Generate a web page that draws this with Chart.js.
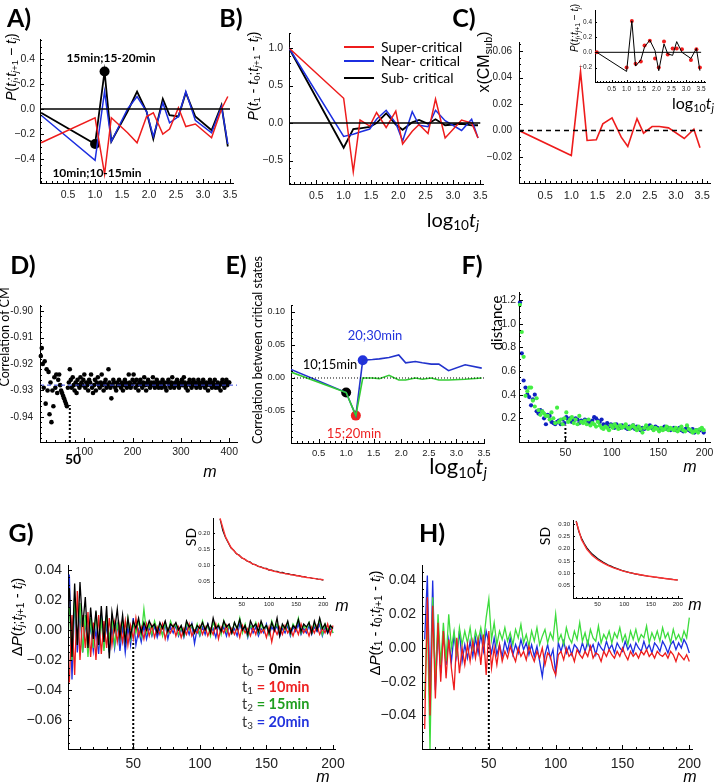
<!DOCTYPE html>
<html>
<head>
<meta charset="utf-8">
<title>Critical states</title>
<script src="https://cdn.jsdelivr.net/npm/chart.js@4.4.1/dist/chart.umd.min.js"></script>
<style>
  body { margin: 0; background: #fff; }
  #fig { position: relative; width: 717px; height: 783px; overflow: hidden; background: #fff; font-family: Lato, "Open Sans", sans-serif; color: #000; }
  #fig canvas { position: absolute; }
  #txt { position: absolute; left: 0; top: 0; width: 717px; height: 783px; z-index: 2; pointer-events: none; }
  .t { position: absolute; white-space: nowrap; line-height: 1; transform: translate(-50%, -50%); }
  .v { transform: translate(-50%, -50%) rotate(-90deg); }
  .lab { font-weight: 700; font-size: 25px; }
  .mm { font-family: "Liberation Sans", Arial, sans-serif; }
  sub { font-size: 68%; vertical-align: -0.25em; line-height: 0; }
  .sw { position: absolute; height: 2px; width: 30px; left: 344px; }
</style>
</head>
<body>
<div id="fig">
<div id="txt">
  <div class="t lab" style="left:19px;top:17px">A)</div>
  <div class="t lab" style="left:231px;top:17px">B)</div>
  <div class="t lab" style="left:464px;top:17px">C)</div>
  <div class="t lab" style="left:23px;top:264px">D)</div>
  <div class="t lab" style="left:236px;top:264px">E)</div>
  <div class="t lab" style="left:472px;top:264px">F)</div>
  <div class="t lab" style="left:21px;top:532px">G)</div>
  <div class="t lab" style="left:432px;top:532px">H)</div>

  <!-- A -->
  <div class="t v mm" style="left:11px;top:67px;font-size:14px"><i>P</i>(<i>t</i><sub><i>j</i></sub>;<i>t</i><sub><i>j</i>+1</sub> &minus; <i>t</i><sub><i>j</i></sub>)</div>
  <div class="t" style="left:111px;top:58px;font-size:12px;font-weight:700">15min;15-20min</div>
  <div class="t" style="left:97px;top:173px;font-size:12px;font-weight:700">10min;10-15min</div>

  <!-- B -->
  <div class="t v mm" style="left:253px;top:76px;font-size:14px"><i>P</i>(<i>t</i><sub>1</sub> - <i>t</i><sub>0</sub>;<i>t</i><sub><i>j</i>+1</sub> - <i>t</i><sub><i>j</i></sub>)</div>
  <div class="sw" style="top:46px;background:#ee1c1c"></div>
  <div class="sw" style="top:60px;background:#1c2ee0"></div>
  <div class="sw" style="top:77px;background:#000"></div>
  <div class="t" style="left:381px;top:47px;font-size:14px;transform:translate(0,-50%)">Super-critical</div>
  <div class="t" style="left:381px;top:61px;font-size:14px;transform:translate(0,-50%)">Near- critical</div>
  <div class="t" style="left:381px;top:78px;font-size:14px;transform:translate(0,-50%)">Sub- critical</div>
  <div class="t" style="left:453px;top:219px;font-size:20px">log<sub>10</sub><i>t</i><sub><i>j</i></sub></div>

  <!-- C -->
  <div class="t v mm" style="left:484px;top:62px;font-size:16px">x(CM<sub>sub</sub>)</div>
  <div class="t v mm" style="left:575px;top:28px;font-size:10px"><i>P</i>(<i>t</i><sub><i>j</i></sub>;<i>t</i><sub><i>j</i>+1</sub> &minus; <i>t</i><sub><i>j</i></sub>)</div>
  <div class="t" style="left:693px;top:103px;font-size:16px">log<sub>10</sub><i>t</i><sub><i>j</i></sub></div>

  <!-- D -->
  <div class="t v" style="left:5px;top:337px;font-size:12.5px">Correlation of CM</div>
  <div class="t" style="left:73px;top:459px;font-size:14px;font-weight:700">50</div>
  <div class="t mm" style="left:210px;top:472px;font-size:16px;font-style:italic">m</div>

  <!-- E -->
  <div class="t v" style="left:258px;top:350px;font-size:12.5px">Correlation between critical states</div>
  <div class="t" style="left:375px;top:335px;font-size:13px;color:#2233dd">20;30min</div>
  <div class="t" style="left:330px;top:364px;font-size:13px">10;15min</div>
  <div class="t" style="left:354px;top:433px;font-size:13px;color:#ee2222">15;20min</div>
  <div class="t" style="left:458px;top:466px;font-size:22px">log<sub>10</sub><i>t</i><sub><i>j</i></sub></div>

  <!-- F -->
  <div class="t v" style="left:496px;top:323px;font-size:15px">distance</div>
  <div class="t mm" style="left:690px;top:467px;font-size:16px;font-style:italic">m</div>

  <!-- G -->
  <div class="t v mm" style="left:16px;top:617px;font-size:15px">&Delta;<i>P</i>(<i>t</i><sub><i>j</i></sub>;<i>t</i><sub><i>j</i>+1</sub> - <i>t</i><sub><i>j</i></sub>)</div>
  <div class="t mm" style="left:323px;top:777px;font-size:16px;font-style:italic">m</div>
  <div style="position:absolute;left:242px;top:660px;font-size:14.5px;line-height:17.5px;white-space:nowrap">
    <div><span style="color:#333">t<sub>0</sub> = </span><b>0min</b></div>
    <div><span style="color:#333">t<sub>1</sub> </span><b style="color:#ee2222">= 10min</b></div>
    <div><span style="color:#333">t<sub>2</sub> </span><b style="color:#1e9e1e">= 15min</b></div>
    <div><span style="color:#333">t<sub>3</sub> </span><b style="color:#2233dd">= 20min</b></div>
  </div>
  <div class="t v" style="left:191px;top:537px;font-size:14px">SD</div>
  <div class="t mm" style="left:342px;top:606px;font-size:16px;font-style:italic">m</div>

  <!-- H -->
  <div class="t v mm" style="left:374px;top:623px;font-size:15px">&Delta;<i>P</i>(<i>t</i><sub>1</sub> - <i>t</i><sub>0</sub>;<i>t</i><sub><i>j</i>+1</sub> - <i>t</i><sub><i>j</i></sub>)</div>
  <div class="t mm" style="left:690px;top:777px;font-size:16px;font-style:italic">m</div>
  <div class="t v" style="left:545px;top:536px;font-size:14px">SD</div>
  <div class="t mm" style="left:695px;top:605px;font-size:16px;font-style:italic">m</div>
</div>
</div>

<script>
// ---------- data ----------
// A: P(tj; tj+1 - tj) against log10 tj
const logT_A = [0, 1.0, 1.176, 1.301, 1.602, 1.778, 1.954, 2.079, 2.255, 2.380, 2.544, 2.681, 2.857, 3.158, 3.342, 3.459];
const superA = [-0.27, -0.07, -0.52, -0.07, -0.19, -0.27, -0.06, -0.03, -0.20, -0.16, 0.01, -0.14, -0.12, -0.23, 0.00, 0.10];
const nearA = [-0.05, -0.41, 0.14, -0.26, 0.00, 0.10, -0.02, -0.22, 0.05, -0.11, -0.06, 0.14, -0.09, -0.19, 0.02, -0.28];
const subA = [-0.03, -0.28, 0.30, -0.26, -0.02, 0.14, -0.02, -0.24, 0.08, -0.05, -0.06, 0.13, -0.06, -0.17, 0.03, -0.30];
const markA_x = [1.0, 1.176];
const markA_y = [-0.28, 0.30];

// B: P(t1 - t0; tj+1 - tj)
const logT_B = [0, 1.0, 1.176, 1.301, 1.477, 1.602, 1.778, 1.954, 2.079, 2.255, 2.380, 2.544, 2.681, 2.857, 3.158, 3.342, 3.459];
const superB = [1.0, 0.33, -0.65, 0.04, -0.04, 0.14, -0.06, 0.16, -0.28, -0.11, -0.02, -0.14, 0.32, -0.20, 0.04, 0.00, -0.20];
const nearB = [1.0, -0.18, -0.15, -0.12, -0.08, 0.05, 0.17, 0.00, -0.24, 0.15, -0.03, -0.05, 0.17, 0.03, -0.10, 0.05, -0.20];
const subB = [1.0, -0.33, -0.08, -0.07, -0.05, 0.00, 0.13, -0.02, -0.09, 0.01, 0.04, -0.01, 0.05, -0.03, -0.01, -0.03, -0.03];

// C: x(CM_sub) and inset
const logT_C = logT_B;
const xCMsub = [0, -0.0188, 0.0445, -0.0075, -0.007, 0.005, 0.0095, -0.005, -0.012, 0.009, -0.002, 0.003, 0.003, 0.002, -0.006, 0.001, -0.013];
const insetC_line = [0, -0.25, 0.41, -0.18, -0.10, 0.07, 0.16, 0.02, -0.24, 0.11, -0.02, -0.04, 0.14, 0.00, -0.08, 0.05, -0.24];
const insetC_dots = [0, -0.20, 0.41, -0.15, -0.12, 0.09, 0.15, -0.08, -0.20, 0.14, -0.03, 0.05, 0.05, 0.04, -0.10, 0.04, -0.20];

// D: correlation of CM against m (m = 10, 12, ..., 400)
const mD_start = 10, mD_step = 2;
const corrCM = [
  -0.917,-0.914,-0.920,-0.929,-0.919,-0.935,-0.922,-0.930,-0.923,-0.939,-0.927,-0.942,-0.930,-0.936,-0.925,-0.929,-0.924,-0.931,-0.926,-0.924,-0.928,-0.930,-0.931,-0.932,-0.933,-0.934,-0.935,-0.936,-0.929,-0.927,
  -0.922,-0.926,-0.929,-0.925,-0.928,-0.930,-0.927,-0.931,-0.926,-0.928,-0.929,-0.925,-0.927,-0.928,-0.926,-0.924,-0.929,-0.927,-0.928,-0.930,-0.926,-0.927,-0.924,-0.929,-0.931,-0.928,-0.926,-0.930,-0.927,-0.925,-0.928,
  -0.929,-0.927,-0.924,-0.928,-0.930,-0.927,-0.926,-0.929,-0.928,-0.922,-0.927,-0.929,-0.933,-0.928,-0.926,-0.927,-0.929,-0.930,-0.927,-0.928,-0.926,-0.928,-0.929,-0.927,-0.930,-0.928,-0.926,-0.927,-0.929,-0.928,-0.924,-0.927,-0.929,-0.928,-0.926,
  -0.924,-0.927,-0.929,-0.926,-0.928,-0.930,-0.927,-0.926,-0.928,-0.929,-0.927,-0.925,-0.928,-0.930,-0.927,-0.926,-0.928,-0.929,-0.927,-0.928,-0.925,-0.927,-0.929,-0.928,-0.926,-0.927,-0.929,-0.928,-0.927,-0.929,-0.926,-0.928,-0.927,-0.929,-0.930,-0.927,-0.926,-0.928,-0.929,-0.927,-0.925,-0.928,-0.929,-0.927,-0.928,-0.926,-0.927,-0.929,-0.928,-0.927,
  -0.926,-0.928,-0.925,-0.927,-0.929,-0.928,-0.930,-0.927,-0.926,-0.928,-0.929,-0.927,-0.926,-0.928,-0.927,-0.929,-0.928,-0.926,-0.927,-0.929,-0.928,-0.927,-0.926,-0.928,-0.929,-0.927,-0.928,-0.930,-0.927,-0.926,-0.928,-0.929,-0.927,-0.928,-0.926,-0.929,-0.928,-0.927,-0.929,-0.928,-0.930,-0.927,-0.926,-0.928,-0.929,-0.927,-0.926,-0.928,-0.927,-0.927
];
const meanCM = -0.928;
const cutD = { m: 70, top: -0.9355 };

// E: correlation between critical states
const logT_E = [0, 1.0, 1.176, 1.301, 1.477, 1.602, 1.778, 1.954, 2.079, 2.255, 2.380, 2.544, 2.681, 2.857, 3.158, 3.459];
const corrBlue = [0.013, -0.022, -0.057, 0.027, 0.028, 0.029, 0.031, 0.035, 0.023, 0.025, 0.023, 0.021, 0.021, 0.011, 0.020, 0.015];
const corrGreen = [0.009, -0.022, -0.057, 0.000, 0.000, -0.001, 0.004, -0.003, -0.003, 0.000, -0.002, 0.000, -0.003, -0.003, -0.002, 0.000];
const markE_x = [1.0, 1.176, 1.301];
const markE_y = [-0.022, -0.057, 0.027];

// F: distance against m (m = 1, 3, ..., 199)
const mF_start = 1, mF_step = 2;
const distBlue = [
  1.18,0.75,0.52,0.46,0.40,0.38,0.31,0.36,0.40,0.26,
  0.24,0.27,0.26,0.20,0.15,0.23,0.22,0.17,0.16,0.15,
  0.17,0.18,0.15,0.19,0.16,0.21,0.19,0.20,0.17,0.18,
  0.20,0.19,0.16,0.18,0.17,0.19,0.18,0.16,0.17,0.18,
  0.21,0.20,0.18,0.17,0.19,0.15,0.14,0.16,0.13,0.15,
  0.14,0.12,0.15,0.13,0.12,0.14,0.13,0.12,0.11,0.13,
  0.12,0.14,0.11,0.13,0.12,0.10,0.12,0.11,0.13,0.12,
  0.14,0.12,0.11,0.13,0.12,0.10,0.11,0.12,0.13,0.11,
  0.12,0.10,0.11,0.12,0.10,0.11,0.12,0.10,0.09,0.11,
  0.12,0.10,0.09,0.11,0.08,0.10,0.09,0.10,0.11,0.08
];
const distGreen = [
  1.16,0.93,0.72,0.39,0.43,0.46,0.46,0.35,0.30,0.37,
  0.27,0.23,0.26,0.24,0.22,0.22,0.19,0.25,0.20,0.16,
  0.29,0.17,0.19,0.15,0.20,0.25,0.17,0.19,0.21,0.16,
  0.19,0.15,0.22,0.17,0.16,0.18,0.15,0.19,0.14,0.16,
  0.15,0.13,0.17,0.14,0.12,0.11,0.13,0.12,0.10,0.14,
  0.12,0.15,0.13,0.11,0.14,0.12,0.13,0.15,0.12,0.11,
  0.13,0.14,0.12,0.10,0.13,0.11,0.08,0.12,0.14,0.11,
  0.12,0.13,0.10,0.12,0.11,0.09,0.12,0.10,0.11,0.13,
  0.10,0.12,0.11,0.10,0.12,0.09,0.11,0.13,0.10,0.09,
  0.14,0.11,0.10,0.08,0.09,0.10,0.08,0.11,0.12,0.10
];
const cutF = { m: 50, top: 0.14 };

// G: dP(tj; tj+1 - tj) against m (m = 2, 4, ..., 200)
const mGH_start = 2, mGH_step = 2;
const dG_t0 = [
  0.028,-0.018,0.031,-0.010,0.032,0.002,0.022,-0.012,0.015,-0.006,
  0.013,-0.010,0.016,-0.008,0.016,-0.019,0.012,0.000,0.014,-0.005,
  0.010,-0.008,0.008,-0.004,0.006,0.001,0.008,-0.002,0.005,0.000,
  0.006,0.002,0.004,-0.002,0.005,0.001,0.006,-0.001,0.004,0.002,
  0.005,0.000,0.003,-0.003,0.006,0.002,0.004,-0.002,0.003,0.001,
  0.005,0.000,0.004,-0.002,0.008,0.001,0.003,-0.001,0.006,0.002,
  0.004,-0.002,0.005,0.001,0.007,0.000,0.003,-0.003,0.006,0.002,
  0.004,-0.001,0.006,0.001,0.003,-0.002,0.005,0.000,0.008,-0.004,
  0.004,0.001,0.006,-0.002,0.003,0.001,0.007,-0.001,0.004,0.002,
  0.005,-0.002,0.006,0.000,0.008,0.001,0.004,-0.002,0.003,0.001
];
const dG_t1 = [
  -0.035,0.010,-0.030,0.026,-0.020,0.010,-0.012,0.012,-0.018,0.005,
  -0.020,0.010,-0.016,0.006,-0.012,0.008,-0.010,0.005,-0.008,0.004,
  -0.008,0.006,-0.010,0.003,-0.006,0.008,-0.004,0.002,-0.006,0.004,
  -0.004,0.003,-0.005,0.002,-0.003,0.004,-0.006,0.001,-0.002,0.003,
  -0.004,0.002,-0.005,0.001,-0.003,0.004,-0.004,0.000,-0.002,0.003,
  -0.003,0.002,-0.004,0.001,-0.003,0.004,-0.006,0.002,-0.002,0.003,
  -0.004,0.001,-0.003,0.002,-0.005,0.003,-0.002,0.001,-0.004,0.002,
  -0.003,0.004,-0.002,0.001,-0.005,0.002,-0.008,0.001,-0.003,0.002,
  -0.003,0.003,-0.002,0.001,-0.004,0.002,-0.003,0.004,-0.002,0.001,
  -0.004,0.002,-0.002,0.003,-0.003,0.001,-0.002,0.004,-0.003,0.003
];
const dG_t2 = [
  0.015,-0.020,0.022,-0.010,0.018,-0.015,0.010,-0.018,0.008,-0.012,
  0.012,-0.008,0.006,-0.014,0.010,-0.006,0.008,-0.010,0.004,-0.006,
  0.006,-0.004,0.008,-0.006,0.004,-0.002,0.006,-0.004,0.014,-0.002,
  0.004,-0.003,0.006,0.000,0.003,-0.004,0.005,-0.002,0.006,0.001,
  0.004,-0.003,0.002,-0.004,0.005,0.000,0.003,-0.002,0.004,-0.003,
  0.006,0.000,0.003,-0.004,0.005,0.001,0.004,-0.003,0.006,-0.001,
  0.003,-0.002,0.005,0.000,0.008,-0.002,0.004,-0.004,0.003,0.001,
  0.005,-0.002,0.004,0.000,0.003,-0.003,0.006,0.001,0.004,-0.002,
  0.003,0.000,0.005,-0.003,0.004,0.001,0.008,-0.002,0.003,0.000,
  0.005,-0.002,0.004,0.001,0.007,-0.003,0.004,0.000,0.003,-0.002
];
const dG_t3 = [
  0.037,-0.033,0.020,-0.015,0.012,-0.015,0.005,-0.010,0.003,-0.014,
  0.000,-0.016,0.010,-0.012,0.004,-0.015,0.002,-0.012,0.005,-0.014,
  0.003,-0.015,0.002,-0.010,0.008,-0.010,0.000,-0.008,0.003,-0.006,
  0.002,-0.004,0.003,-0.005,0.001,-0.003,0.004,-0.006,0.002,-0.002,
  0.003,-0.004,0.001,-0.005,0.002,-0.003,0.004,-0.009,0.001,-0.004,
  0.002,-0.003,0.004,-0.002,0.001,-0.005,0.003,-0.002,0.002,-0.004,
  0.003,-0.002,0.001,-0.004,0.004,-0.001,0.002,-0.005,0.003,-0.002,
  0.002,-0.004,0.001,-0.002,0.004,-0.003,0.002,-0.001,0.003,-0.004,
  0.001,-0.002,0.003,-0.004,0.002,-0.001,0.004,-0.003,0.001,-0.002,
  0.003,-0.003,0.002,-0.001,0.004,-0.004,0.002,-0.002,0.001,-0.002
];
const cutG = { m: 50, top: -0.007 };

// H: dP(t1 - t0; tj+1 - tj) against m
const dH_t1 = [
  -0.048,0.030,-0.040,0.025,-0.030,0.015,-0.020,0.010,-0.018,0.005,
  -0.012,-0.025,0.006,-0.015,0.000,-0.010,0.002,-0.008,0.004,-0.006,
  0.005,-0.010,0.008,-0.016,0.010,-0.012,0.000,-0.010,0.002,-0.008,
  -0.002,-0.006,0.001,-0.004,-0.008,0.000,-0.005,-0.002,-0.007,0.001,
  -0.004,-0.008,-0.002,-0.006,0.000,-0.010,-0.003,-0.005,-0.012,-0.016,
  -0.004,-0.002,-0.007,0.000,-0.005,-0.003,-0.008,-0.001,-0.004,-0.006,
  -0.002,-0.005,0.001,-0.006,-0.003,-0.004,-0.008,-0.002,-0.005,-0.001,
  -0.004,-0.006,-0.002,-0.005,0.000,-0.004,-0.007,-0.002,-0.005,-0.003,
  -0.006,-0.002,-0.004,-0.001,-0.005,-0.003,-0.006,-0.002,-0.004,-0.005,
  -0.003,-0.006,-0.002,-0.004,-0.008,-0.003,-0.005,-0.007,-0.004,-0.008
];
const dH_t2 = [
  -0.030,0.020,-0.060,0.030,-0.020,0.020,-0.010,0.015,-0.008,0.020,
  0.000,0.010,-0.005,0.012,0.002,0.010,0.003,0.012,0.000,0.010,
  0.004,0.012,0.003,0.018,0.029,0.005,0.015,0.002,0.010,0.005,
  0.012,0.004,0.009,0.002,0.011,0.006,0.014,0.003,0.008,0.001,
  0.010,0.004,0.012,0.002,0.007,0.011,0.003,0.009,0.005,0.020,
  0.004,0.008,0.002,0.012,0.006,0.003,0.010,0.005,0.015,0.004,
  0.009,0.002,0.011,0.006,0.004,0.013,0.003,0.008,0.005,0.010,
  0.003,0.009,0.006,0.012,0.004,0.008,0.002,0.010,0.005,0.011,
  0.004,0.008,0.006,0.013,0.003,0.009,0.005,0.010,0.004,0.012,
  0.006,0.009,0.003,0.011,0.005,0.008,0.004,0.010,0.006,0.018
];
const dH_t3 = [
  0.005,0.043,-0.030,0.040,-0.025,0.012,-0.015,0.010,-0.010,0.005,
  -0.008,0.008,-0.005,0.010,-0.008,0.002,-0.006,0.004,-0.005,0.006,
  -0.003,0.008,-0.002,0.010,0.003,-0.003,0.006,-0.004,0.002,-0.005,
  0.004,-0.002,0.006,-0.004,0.002,-0.003,0.005,-0.001,0.003,-0.004,
  0.002,-0.005,0.001,-0.008,-0.017,-0.004,0.002,-0.006,-0.001,-0.015,
  0.003,-0.002,0.004,-0.003,0.001,-0.004,0.002,0.000,-0.003,0.003,
  -0.002,0.004,-0.001,0.002,-0.004,0.003,0.000,-0.002,0.004,-0.001,
  0.002,-0.003,0.003,0.000,-0.002,0.004,-0.001,0.002,-0.003,0.003,
  0.000,-0.002,0.004,-0.001,0.002,-0.003,0.003,0.001,-0.002,0.004,
  0.001,-0.003,0.002,0.004,-0.001,0.003,0.000,0.005,0.002,-0.003
];
const cutH = { m: 50, top: 0.004 };

// SD insets (observed every 5, fitted curve every 10)
const mSD_start = 10, mSD_step = 5, mFit_step = 10;
const sdG = [0.243,0.207,0.186,0.170,0.154,0.147,0.136,0.132,0.123,0.120,0.113,0.111,0.104,0.103,0.097,0.096,0.092,0.091,0.086,0.086,0.082,0.082,0.078,0.079,0.075,0.075,0.072,0.072,0.069,0.069,0.066,0.066,0.063,0.063,0.060,0.060,0.058,0.057,0.055];
const sdG_fit = [0.245,0.188,0.156,0.137,0.124,0.114,0.105,0.098,0.092,0.087,0.082,0.078,0.075,0.072,0.069,0.066,0.063,0.061,0.058,0.056];
const sdH = [0.312,0.268,0.242,0.221,0.203,0.190,0.178,0.169,0.160,0.153,0.146,0.140,0.134,0.129,0.124,0.120,0.116,0.112,0.109,0.106,0.103,0.101,0.098,0.096,0.094,0.092,0.090,0.088,0.087,0.085,0.084,0.082,0.081,0.079,0.078,0.077,0.076,0.074,0.073];
const sdH_fit = [0.310,0.236,0.197,0.172,0.155,0.142,0.131,0.122,0.115,0.108,0.103,0.098,0.094,0.090,0.087,0.084,0.081,0.078,0.075,0.073];

// tick values
const ticksLog = [0.5, 1.0, 1.5, 2.0, 2.5, 3.0, 3.5];
const ticksA_y = [-0.4, -0.2, 0, 0.2, 0.4];
const ticksB_y = [-0.5, 0, 0.5, 1.0];
const ticksC_y = [-0.02, 0, 0.02, 0.04, 0.06];
const ticksCi_y = [-0.2, 0, 0.2, 0.4];
const ticksD_x = [100, 200, 300, 400];
const ticksD_y = [-0.94, -0.93, -0.92, -0.91, -0.90];
const ticksE_y = [-0.05, 0, 0.05, 0.10];
const ticksM200 = [50, 100, 150, 200];
const ticksF_y = [0.2, 0.4, 0.6, 0.8, 1.0, 1.2];
const ticksG_y = [-0.06, -0.04, -0.02, 0, 0.02, 0.04];
const ticksH_y = [-0.04, -0.02, 0, 0.02, 0.04];
const ticksGi_y = [0.05, 0.10, 0.15, 0.20];
const ticksHi_y = [0.05, 0.10, 0.15, 0.20, 0.25, 0.30];

// ---------- helpers ----------
const RED = '#ee1c1c', BLUE = '#1c2ee0', GREEN = '#3ddc3d', BLACK = '#000';
const TICK_FONT = "'Liberation Sans', Arial, sans-serif";
const fig = document.getElementById('fig');
const seq = (start, step, n) => Array.from({ length: n }, (_, i) => start + i * step);
const pts = (xs, ys) => ys.map((y, i) => ({ x: xs[i], y }));
const fmt = (v, d, hy) => v.toFixed(d).replace('-', hy ? '-' : '\u2212');

// Mathematica style ticks drawn inward
const inTicks = {
  id: 'inTicks',
  afterDraw(chart, args, o) {
    const { ctx, chartArea: a, scales } = chart;
    ctx.save();
    ctx.strokeStyle = '#000';
    ctx.lineWidth = 1;
    ctx.beginPath();
    [['x', o.x], ['y', o.y]].forEach(([k, step]) => {
      if (!step) return;
      const s = scales[k];
      const first = Math.ceil(s.min / step - 1e-6);
      for (let i = first; i * step <= s.max + 1e-9; i++) {
        const v = i * step;
        const major = s.ticks.some(t => Math.abs(t.value - v) < step / 4);
        const len = major ? o.len : o.len / 2;
        const p = Math.round(s.getPixelForValue(v)) + 0.5;
        if (k === 'x') { ctx.moveTo(p, a.bottom); ctx.lineTo(p, a.bottom - len); }
        else { ctx.moveTo(a.left, p); ctx.lineTo(a.left + len, p); }
      }
    });
    ctx.stroke();
    ctx.restore();
  }
};

function axis(min, max, ticks, digits, size, gap, hy) {
  return {
    type: 'linear', min, max,
    afterBuildTicks: s => { s.ticks = ticks.map(v => ({ value: v })); },
    grid: { display: false, drawTicks: false },
    border: { display: true, color: '#000', width: 1 },
    ticks: {
      font: { family: TICK_FONT, size }, color: '#222', padding: gap,
      maxRotation: 0, autoSkip: false, callback: v => fmt(v, digits, hy)
    }
  };
}

// box = plot area [left, top, right, bottom] on the page, pad = room around it [l, t, r, b]
function panel(box, pad, xs, ys, datasets, minor) {
  const c = document.createElement('canvas');
  const W = box[2] - box[0] + pad[0] + pad[2];
  const H = box[3] - box[1] + pad[1] + pad[3];
  c.width = W; c.height = H;
  c.style.left = (box[0] - pad[0]) + 'px';
  c.style.top = (box[1] - pad[1]) + 'px';
  c.style.width = W + 'px'; c.style.height = H + 'px';
  fig.appendChild(c);
  xs.afterFit = s => { s.height = pad[3]; s.paddingLeft = 0; s.paddingRight = 0; };
  ys.afterFit = s => { s.width = pad[0]; s.paddingTop = 0; s.paddingBottom = 0; };
  return new Chart(c, {
    type: 'scatter',
    data: { datasets },
    options: {
      responsive: false, animation: false, devicePixelRatio: 1,
      layout: { padding: { top: pad[1], right: pad[2], left: 0, bottom: 0 } },
      plugins: { legend: { display: false }, tooltip: { enabled: false }, inTicks: minor },
      scales: { x: xs, y: ys }
    },
    plugins: [inTicks]
  });
}

const line = (data, color, width, extra) => Object.assign({
  data, showLine: true, borderColor: color, borderWidth: width, pointRadius: 0, tension: 0, fill: false
}, extra || {});
const dots = (data, color, r, extra) => Object.assign({
  data, showLine: false, backgroundColor: color, borderWidth: 0, pointRadius: r, clip: false
}, extra || {});
const hline = (x0, x1, y) => [{ x: x0, y }, { x: x1, y }];
const vline = (x, y0, y1) => [{ x, y: y0 }, { x, y: y1 }];

// ---------- A ----------
panel([40, 39, 233, 183], [38, 6, 14, 22],
  axis(-0.02, 3.555, ticksLog, 1, 10.5, 6), axis(-0.592, 0.56, ticksA_y, 1, 10.5, 5), [
    line(hline(0, 3.5, 0), BLACK, 1.5),
    line(pts(logT_A, superA), RED, 1.5),
    line(pts(logT_A, nearA), BLUE, 1.5),
    line(pts(logT_A, subA), BLACK, 1.8),
    dots(pts(markA_x, markA_y), BLACK, 5)
  ], { x: 0.1, y: 0.05, len: 4 });

// ---------- B ----------
panel([289, 33, 483, 184], [40, 6, 12, 22],
  axis(0, 3.55, ticksLog, 1, 10.5, 6), axis(-0.813, 1.2, ticksB_y, 1, 10.5, 6), [
    line(hline(0, 3.5, 0), BLACK, 1.5),
    line(pts(logT_B, superB), RED, 1.5),
    line(pts(logT_B, nearB), BLUE, 1.5),
    line(pts(logT_B, subB), BLACK, 1.8)
  ], { x: 0.1, y: 0.1, len: 4 });

// ---------- C ----------
panel([519, 42, 710, 183], [42, 6, 7, 22],
  axis(0, 3.65, ticksLog, 1, 11, 6), axis(-0.0396, 0.0668, ticksC_y, 2, 10, 7), [
    line(hline(0, 3.5, 0), BLACK, 1.5, { borderDash: [5, 4] }),
    line(pts(logT_C, xCMsub), RED, 1.6)
  ], { x: 0.1, y: 0.005, len: 4 });

panel([595, 10, 705, 82], [18, 10, 10, 12],
  axis(-0.06, 3.63, ticksLog, 1, 6.5, 3), axis(-0.388, 0.553, ticksCi_y, 1, 6.5, 3), [
    line(hline(0, 3.5, 0), BLACK, 1),
    line(pts(logT_C, insetC_line), BLACK, 1),
    dots(pts(logT_C, insetC_dots), RED, 2)
  ], { x: 0.1, y: 0.1, len: 2 });

// ---------- D ----------
const mD = seq(mD_start, mD_step, corrCM.length);
panel([40, 305, 237, 442], [38, 8, 14, 18],
  axis(8.3, 416, ticksD_x, 0, 10.5, 4), axis(-0.9495, -0.8977, ticksD_y, 2, 10, 7, true), [
    line(hline(8.3, 416, meanCM), '#3344dd', 1, { borderDash: [4, 3] }),
    line(vline(cutD.m, -0.9495, cutD.top), BLACK, 2, { borderDash: [2, 2] }),
    dots(pts(mD, corrCM), BLACK, 2.3)
  ], { x: 20, y: 0.002, len: 4 });

// ---------- E ----------
panel([291, 305, 484, 443], [38, 8, 10, 18],
  axis(0, 3.5, ticksLog, 1, 9.5, 5), axis(-0.0985, 0.1106, ticksE_y, 2, 9, 6, true), [
    line(hline(0, 3.5, 0), BLACK, 1, { borderDash: [1, 2] }),
    line(pts(logT_E, corrGreen), '#33cc33', 1.6),
    line(pts(logT_E, corrBlue), '#2233cc', 1.6),
    dots(pts(markE_x, markE_y), [BLACK, '#ee2222', '#2233dd'], 5)
  ], { x: 0.1, y: 0.01, len: 4 });

// ---------- F ----------
const mF = seq(mF_start, mF_step, distBlue.length);
panel([519, 292, 710, 442], [30, 8, 7, 18],
  axis(0, 205.8, ticksM200, 0, 10.5, 5), axis(0, 1.268, ticksF_y, 1, 10.5, 3), [
    line(vline(cutF.m, 0, cutF.top), BLACK, 2, { borderDash: [2, 2] }),
    dots(pts(mF, distGreen), '#44ee44', 2.1),
    dots(pts(mF, distBlue), '#1020c0', 2.1)
  ], { x: 10, y: 0.05, len: 4 });

// ---------- G ----------
const mGH = seq(mGH_start, mGH_step, dG_t0.length);
panel([68, 565, 335, 749], [60, 8, 15, 24],
  axis(1, 201.5, ticksM200, 0, 14, 7), axis(-0.0793, 0.0433, ticksG_y, 2, 14, 6), [
    line(pts(mGH, dG_t0), BLACK, 1.3),
    line(pts(mGH, dG_t1), RED, 1.3),
    line(pts(mGH, dG_t2), GREEN, 1.3),
    line(pts(mGH, dG_t3), BLUE, 1.3),
    line(vline(cutG.m, -0.0793, cutG.top), BLACK, 2, { borderDash: [2, 2] })
  ], { x: 10, y: 0.005, len: 4 });

// ---------- H ----------
panel([422, 565, 692, 749], [60, 8, 15, 24],
  axis(0, 202, ticksM200, 0, 14, 7), axis(-0.0599, 0.0492, ticksH_y, 2, 14, 6), [
    line(pts(mGH, dH_t1), RED, 1.3),
    line(pts(mGH, dH_t2), GREEN, 1.3),
    line(pts(mGH, dH_t3), BLUE, 1.3),
    line(vline(cutH.m, -0.0599, cutH.top), BLACK, 2, { borderDash: [2, 2] })
  ], { x: 10, y: 0.005, len: 4 });

// ---------- SD insets ----------
const mSD = seq(mSD_start, mSD_step, sdG.length);
const mFit = seq(mSD_start, mFit_step, sdG_fit.length);
panel([213, 518, 325, 598], [22, 6, 8, 12],
  axis(-3, 203, ticksM200, 0, 6, 3), axis(0, 0.246, ticksGi_y, 2, 6, 3), [
    line(pts(mFit, sdG_fit), '#ff3030', 1.4),
    line(pts(mSD, sdG), '#111', 1.2)
  ], { x: 10, y: 0.01, len: 2 });

panel([573, 520, 682, 598], [22, 6, 8, 12],
  axis(4, 208, ticksM200, 0, 6, 3), axis(0, 0.316, ticksHi_y, 2, 6, 3), [
    line(pts(mFit, sdH_fit), '#ff3030', 1.4),
    line(pts(mSD, sdH), '#111', 1.2)
  ], { x: 10, y: 0.01, len: 2 });
</script>
</body>
</html>
